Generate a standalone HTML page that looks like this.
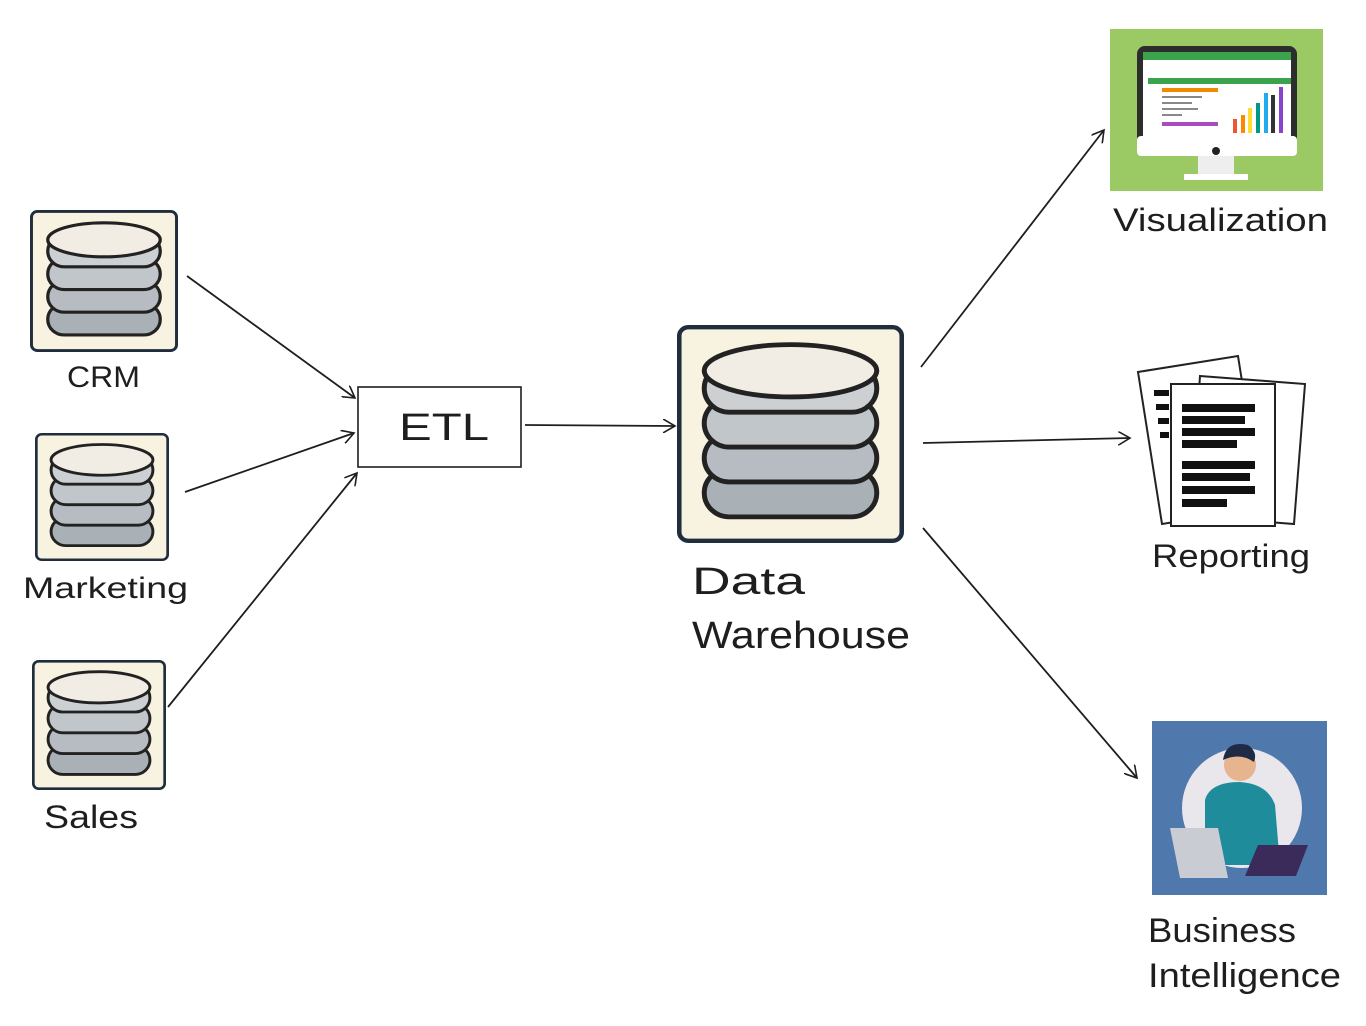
<!DOCTYPE html>
<html><head><meta charset="utf-8"><style>
html,body{margin:0;padding:0;background:#fff;width:1366px;height:1026px;overflow:hidden}
svg text{font-family:"Liberation Sans",sans-serif;fill:#1e1e1e}
</style></head><body>
<svg width="1366" height="1026" viewBox="0 0 1366 1026" xmlns="http://www.w3.org/2000/svg">
<defs>
<marker id="a" markerWidth="14" markerHeight="14" refX="12" refY="7" orient="auto" markerUnits="userSpaceOnUse">
<path d="M0,0 L12,7 L0,14" fill="none" stroke="#1e1e1e" stroke-width="1.6"/></marker>
<g id="db">
<rect x="1" y="1" width="98" height="98" rx="4" fill="#f8f2e0" stroke="#1f2d3d" stroke-width="2"/>
<g stroke="#222" stroke-width="2.2">
<rect x="12" y="66" width="76" height="22" rx="11" fill="#a9b0b6"/>
<rect x="12" y="50" width="76" height="22" rx="11" fill="#b6bcc1"/>
<rect x="12" y="34" width="76" height="22" rx="11" fill="#c1c6ca"/>
<rect x="12" y="18" width="76" height="22" rx="11" fill="#ccd0d3"/>
<ellipse cx="50" cy="21" rx="38" ry="12" fill="#f2ede4"/>
</g></g>
</defs>
<use href="#db" transform="translate(30,210) scale(1.48,1.42)"/>
<use href="#db" transform="translate(35,433) scale(1.34,1.28)"/>
<use href="#db" transform="translate(32,660) scale(1.34,1.30)"/>
<text x="67" y="387" font-size="30" textLength="73" lengthAdjust="spacingAndGlyphs">CRM</text>
<text x="23" y="598" font-size="30" textLength="165" lengthAdjust="spacingAndGlyphs">Marketing</text>
<text x="44" y="828" font-size="32" textLength="94" lengthAdjust="spacingAndGlyphs">Sales</text>
<rect x="358" y="387" width="163" height="80" fill="#fff" stroke="#1e1e1e" stroke-width="1.6"/>
<text x="399" y="440" font-size="38" textLength="90" lengthAdjust="spacingAndGlyphs">ETL</text>
<use href="#db" transform="translate(677,325) scale(2.27,2.18)"/>
<text x="692" y="594" font-size="38" textLength="113" lengthAdjust="spacingAndGlyphs">Data</text>
<text x="692" y="648" font-size="38" textLength="218" lengthAdjust="spacingAndGlyphs">Warehouse</text>
<g stroke="#1e1e1e" stroke-width="1.8" fill="none" marker-end="url(#a)">
<line x1="187" y1="276" x2="355" y2="398"/>
<line x1="185" y1="492" x2="354" y2="433"/>
<line x1="168" y1="707" x2="357" y2="473"/>
<line x1="525" y1="425" x2="675" y2="426"/>
<line x1="921" y1="367" x2="1104" y2="130"/>
<line x1="923" y1="443" x2="1130" y2="438"/>
<line x1="923" y1="528" x2="1137" y2="778"/>
</g>
<rect x="1110" y="29" width="213" height="162" fill="#9bc963"/>
<rect x="1137" y="46" width="160" height="104" rx="8" fill="#2d2d2d"/>
<rect x="1137" y="136" width="160" height="20" rx="4" fill="#fff"/>
<circle cx="1216" cy="151" r="4" fill="#222"/>
<rect x="1198" y="156" width="36" height="18" fill="#eee"/>
<rect x="1184" y="174" width="64" height="6" fill="#fff"/>
<rect x="1143" y="52" width="148" height="84" fill="#fff"/>
<rect x="1143" y="52" width="148" height="8" fill="#3aa34b"/>
<rect x="1148" y="78" width="143" height="6" fill="#3aa34b"/>
<rect x="1162" y="88" width="56" height="4" fill="#f28a00"/>
<rect x="1162" y="122" width="56" height="4" fill="#a64ec0"/>
<g fill="#888"><rect x="1162" y="96" width="40" height="2"/><rect x="1162" y="102" width="30" height="2"/><rect x="1162" y="108" width="36" height="2"/><rect x="1162" y="114" width="20" height="2"/></g>
<g><rect x="1233" y="119" width="4" height="14" fill="#e53"/><rect x="1241" y="115" width="4" height="18" fill="#f80"/><rect x="1248" y="108" width="4" height="25" fill="#fd3"/><rect x="1256" y="103" width="4" height="30" fill="#098"/><rect x="1264" y="93" width="4" height="40" fill="#2ae"/><rect x="1271" y="95" width="4" height="38" fill="#333"/><rect x="1279" y="87" width="4" height="46" fill="#84c"/></g>
<text x="1113" y="231" font-size="32" textLength="215" lengthAdjust="spacingAndGlyphs">Visualization</text>
<g stroke="#222" stroke-width="2" fill="#fff">
<path d="M1138,372 L1238,356 L1262,508 L1162,524 Z"/>
<path d="M1200,376 L1305,384 L1294,524 L1190,516 Z"/>
<rect x="1171" y="384" width="104" height="142"/>
</g>
<g fill="#111"><rect x="1182" y="404" width="73" height="8"/><rect x="1182" y="416" width="63" height="8"/><rect x="1182" y="428" width="73" height="8"/><rect x="1182" y="440" width="55" height="8"/><rect x="1182" y="461" width="73" height="8"/><rect x="1182" y="473" width="68" height="8"/><rect x="1182" y="486" width="73" height="8"/><rect x="1182" y="499" width="45" height="8"/>
<rect x="1154" y="390" width="15" height="6"/><rect x="1156" y="404" width="13" height="6"/><rect x="1158" y="418" width="11" height="6"/><rect x="1160" y="432" width="9" height="6"/></g>
<text x="1152" y="567" font-size="32" textLength="158" lengthAdjust="spacingAndGlyphs">Reporting</text>
<rect x="1152" y="721" width="175" height="174" fill="#4f79ad"/>
<circle cx="1242" cy="808" r="60" fill="#e9e6ec"/>
<circle cx="1240" cy="765" r="16" fill="#e6b48f"/>
<path d="M1223,760 Q1226,740 1248,745 Q1258,752 1254,762 Q1240,752 1223,760 Z" fill="#1f2a44"/>
<path d="M1205,800 Q1210,782 1240,782 Q1268,784 1275,805 L1280,865 L1205,865 Z" fill="#1f8c9c"/>
<path d="M1170,828 L1218,828 L1228,878 L1180,878 Z" fill="#c9ccd3"/>
<path d="M1258,845 L1308,845 L1296,876 L1245,876 Z" fill="#3b2b5a"/>
<text x="1148" y="942" font-size="34" textLength="148" lengthAdjust="spacingAndGlyphs">Business</text>
<text x="1148" y="987" font-size="34" textLength="193" lengthAdjust="spacingAndGlyphs">Intelligence</text>
</svg>
</body></html>
